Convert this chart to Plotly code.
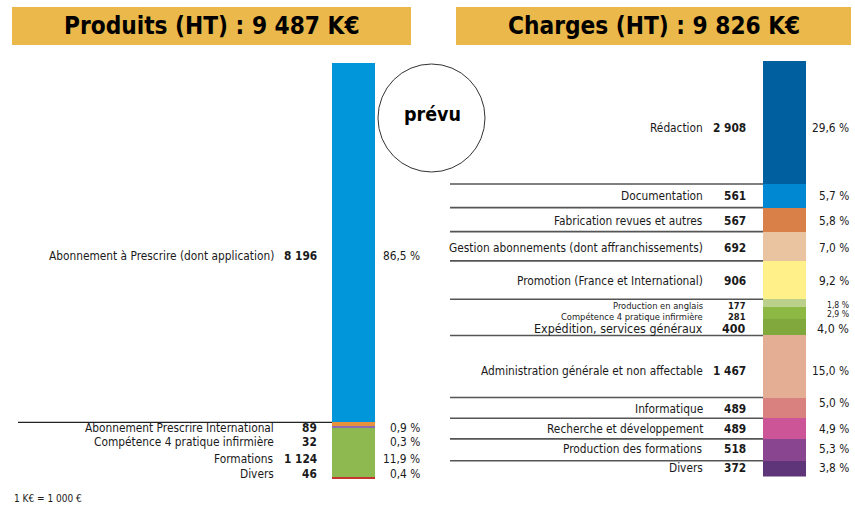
import plotly.graph_objects as go
import numpy as np

W, H = 855, 509

# ---------------- data ----------------
prod_title = "Produits (HT) : 9 487 K€"
prod_labels = ["Abonnement à Prescrire (dont application)", "Abonnement Prescrire International",
               "Compétence 4 pratique infirmière", "Formations", "Divers"]
prod_values = [8196, 89, 32, 1124, 46]
prod_pct = ["86,5 %", "0,9 %", "0,3 %", "11,9 %", "0,4 %"]

charge_title = "Charges (HT) : 9 826 K€"
charge_labels = ["Rédaction", "Documentation", "Fabrication revues et autres",
                 "Gestion abonnements (dont affranchissements)", "Promotion (France et International)",
                 "Production en anglais", "Compétence 4 pratique infirmière", "Expédition, services généraux",
                 "Administration générale et non affectable", "Informatique", "Recherche et développement",
                 "Production des formations", "Divers"]
charge_values = [2908, 561, 567, 692, 906, 177, 281, 400, 1467, 489, 489, 518, 372]
charge_pct = ["29,6 %", "5,7 %", "5,8 %", "7,0 %", "9,2 %", "1,8 %", "2,9 %", "4,0 %",
              "15,0 %", "5,0 %", "4,9 %", "5,3 %", "3,8 %"]

footnote = "1 K€ = 1 000 €"
stamp = "prévu"

# ---------------- styles / layout ----------------
prod_colors = ["#0096D9", "#E8913C", "#8C6BB1", "#8EB951", "#C4372D"]
charge_colors = ["#005F9F", "#0089D2", "#D97F48", "#EAC4A1", "#FFF089", "#BBD08A", "#8CB843",
                 "#80A83C", "#E3AE93", "#D8817E", "#CB5596", "#8A4590", "#5E3579"]

FONT = "DejaVu Sans Condensed, Liberation Sans Narrow, sans-serif"
TXT = "#1a1a1a"

# bar geometry in page pixels
L_TOP, L_BOT, L_X, BW = 63, 479, 353.5, 43
R_TOP, R_BOT, R_X = 61, 476.5, 784.5

# label offsets (pixels, relative to segment centre)
prod_lab_off = [13.3, 3.7, 15.3, 6.6, -4.0]
charge_lab_off = [5.5, 0.2, 1.0, 2.0, 0.9, 2.7, 4.0, 1.9, 4.2, 1.4, 0.7, -0.9, -0.4]
charge_pct_off = [5.5, 0.2, 1.0, 2.0, 0.9, 1.8, 1.0, 1.2, 4.2, -4.6, 0.7, -0.9, -0.4]
LFS = 11.8
charge_font = [LFS] * 13
charge_font[5] = 9.3
charge_font[6] = 9.3
charge_font[7] = 12.4
pct_font = list(charge_font)
pct_font[5] = 8.6
pct_font[6] = 8.6
charge_sep_after = [0, 1, 2, 3, 4, 7, 8, 9, 10, 11]


def py(y):
    return 1 - y / H


def fmt(v):
    return f"{v:,}".replace(",", " ")


fig = go.Figure()

for lab, v, c in zip(prod_labels, prod_values, prod_colors):
    fig.add_trace(go.Bar(x=[L_X], y=[v], width=BW, marker=dict(color=c, line=dict(width=0)),
                         name=lab, xaxis="x", yaxis="y", hoverinfo="skip", showlegend=False))
for lab, v, c in zip(charge_labels, charge_values, charge_colors):
    fig.add_trace(go.Bar(x=[R_X], y=[v], width=BW, marker=dict(color=c, line=dict(width=0)),
                         name=lab, xaxis="x2", yaxis="y2", hoverinfo="skip", showlegend=False))

prod_total = sum(prod_values)
charge_total = sum(charge_values)
l_scale = (L_BOT - L_TOP) / prod_total
r_scale = (R_BOT - R_TOP) / charge_total

ax = dict(visible=False, fixedrange=True)
fig.update_layout(
    width=W, height=H, margin=dict(l=0, r=0, t=0, b=0),
    paper_bgcolor="white", plot_bgcolor="rgba(0,0,0,0)",
    barmode="stack", bargap=0,
    xaxis=dict(range=[0, W], domain=[0, 1], anchor="y", **ax),
    xaxis2=dict(range=[0, W], domain=[0, 1], anchor="y2", overlaying="x", **ax),
    yaxis=dict(range=[prod_total, 0], domain=[py(L_BOT), py(L_TOP)], anchor="x", **ax),
    yaxis2=dict(range=[charge_total, 0], domain=[py(R_BOT), py(R_TOP)], anchor="x2", **ax),
    font=dict(family=FONT, color=TXT),
)

shapes = []
ann = []

# header boxes
for (x0, x1), title in [((12, 411), prod_title), ((456, 851), charge_title)]:
    shapes.append(dict(type="rect", xref="x", yref="paper", x0=x0, x1=x1, y0=py(45), y1=py(7),
                       fillcolor="#EAB84B", line=dict(width=0), layer="below"))
    ann.append(dict(xref="x", yref="paper", x=(x0 + x1) / 2, y=py(26), text=f"<b>{title}</b>",
                    showarrow=False, font=dict(size=24.2, color="#000", family=FONT),
                    xanchor="center", yanchor="middle"))

# stamp circle
shapes.append(dict(type="circle", xref="x", yref="paper", x0=378, x1=485, y0=py(172), y1=py(64),
                   line=dict(color="#333", width=1), fillcolor="white"))
ann.append(dict(xref="x", yref="paper", x=432, y=py(114), text=f"<b>{stamp}</b>", showarrow=False,
                font=dict(size=19.5, color="#000", family=FONT), xanchor="center", yanchor="middle"))

# left labels
cum = np.concatenate([[0], np.cumsum(prod_values)])
for i, (lab, v, p) in enumerate(zip(prod_labels, prod_values, prod_pct)):
    yc = (cum[i] + cum[i + 1]) / 2 + prod_lab_off[i] / l_scale
    ann.append(dict(xref="x", yref="y", x=276, y=yc, text=lab, showarrow=False, xanchor="right",
                    yanchor="middle", font=dict(size=LFS)))
    ann.append(dict(xref="x", yref="y", x=319, y=yc, text=f"<b>{fmt(v)}</b>", showarrow=False,
                    xanchor="right", yanchor="middle", font=dict(size=LFS)))
    ann.append(dict(xref="x", yref="y", x=422, y=yc, text=p, showarrow=False, xanchor="right",
                    yanchor="middle", font=dict(size=LFS)))
shapes.append(dict(type="line", xref="x", yref="y", x0=18, x1=L_X - BW / 2, y0=cum[1], y1=cum[1],
                   line=dict(color="#222", width=1.2)))

# right labels
cum2 = np.concatenate([[0], np.cumsum(charge_values)])
for i, (lab, v, p) in enumerate(zip(charge_labels, charge_values, charge_pct)):
    mid = (cum2[i] + cum2[i + 1]) / 2
    yl = mid + charge_lab_off[i] / r_scale
    yp = mid + charge_pct_off[i] / r_scale
    fs = charge_font[i]
    ann.append(dict(xref="x2", yref="y2", x=705, y=yl, text=lab, showarrow=False, xanchor="right",
                    yanchor="middle", font=dict(size=fs)))
    ann.append(dict(xref="x2", yref="y2", x=748, y=yl, text=f"<b>{fmt(v)}</b>", showarrow=False,
                    xanchor="right", yanchor="middle", font=dict(size=fs)))
    ann.append(dict(xref="x2", yref="y2", x=851, y=yp, text=p, showarrow=False, xanchor="right",
                    yanchor="middle", font=dict(size=pct_font[i])))
for i in charge_sep_after:
    yv = cum2[i + 1]
    shapes.append(dict(type="line", xref="x2", yref="y2", x0=450, x1=R_X - BW / 2, y0=yv, y1=yv,
                       line=dict(color="#555", width=1.6)))

ann.append(dict(xref="x", yref="paper", x=12, y=py(498), text=footnote, showarrow=False,
                xanchor="left", yanchor="middle", font=dict(size=10)))

fig.update_layout(shapes=shapes, annotations=ann)
fig.write_html("out.html", config={"displayModeBar": False, "staticPlot": True},
               post_script="document.body.style.margin='0px';document.body.style.overflow='hidden';")
